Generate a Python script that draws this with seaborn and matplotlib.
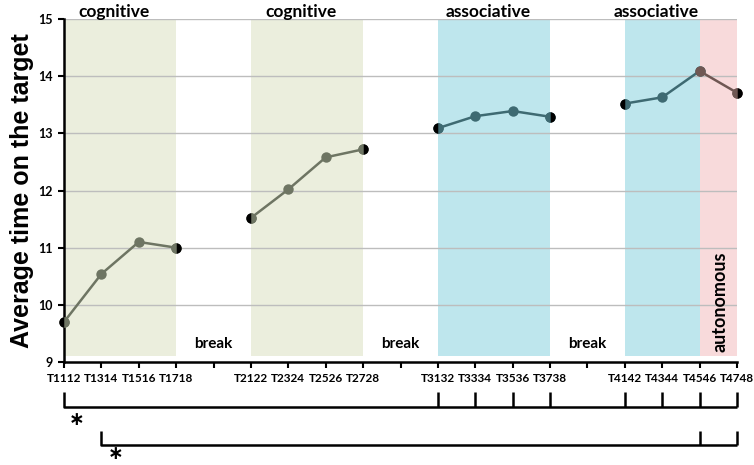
import matplotlib
matplotlib.use("Agg")
import matplotlib.pyplot as plt
import seaborn as sns
import pandas as pd

sns.set_theme(style="white")
plt.rcParams['font.family'] = ['Lato', 'DejaVu Sans']
plt.rcParams['text.color'] = 'black'
plt.rcParams['axes.labelcolor'] = 'black'
plt.rcParams['xtick.color'] = 'black'
plt.rcParams['ytick.color'] = 'black'

# ---- data ----
tick_labels = ["T1112", "T1314", "T1516", "T1718", "",
               "T2122", "T2324", "T2526", "T2728", "",
               "T3132", "T3334", "T3536", "T3738", "",
               "T4142", "T4344", "T4546", "T4748"]
seg1_x = [0, 1, 2, 3];      seg1_y = [9.70, 10.54, 11.10, 11.00]
seg2_x = [5, 6, 7, 8];      seg2_y = [11.52, 12.02, 12.58, 12.72]
seg3_x = [10, 11, 12, 13];  seg3_y = [13.09, 13.30, 13.39, 13.29]
seg4_x = [15, 16, 17];      seg4_y = [13.52, 13.63, 14.09]
seg5_x = [17, 18];          seg5_y = [14.09, 13.71]

phases = [("cognitive", 0, 3, "#EBEEDD"), ("cognitive", 5, 8, "#EBEEDD"),
          ("associative", 10, 13, "#BEE6ED"), ("associative", 15, 17, "#BEE6ED")]
auto_band = (17, 18, "#F8DADB")
break_pos = [4, 9, 14]

bracket1_x = (0, 18); bracket1_ticks = [10, 11, 12, 13, 15, 16, 17, 18]
bracket2_x = (1, 18); bracket2_ticks = [17, 18]

# ---- figure ----
fig = plt.figure(figsize=(7.54, 4.65), dpi=100)
ax = fig.add_axes([64/754, 1-362/465, (737-64)/754, (362-19)/465])
ax.set_xlim(0, 18)
ax.set_ylim(9, 15)

def ypix(py):
    return 9 - (py - 362) / 57.17

# bands
for name, a, b, c in phases:
    ax.fill_between([a, b], 9.1, 15, color=c, lw=0, zorder=0)
    ax.text((a + b) / 2 - 0.15, ypix(17), name, ha="center", va="baseline",
            fontsize=12.5, fontweight="bold", color="black")
ax.fill_between([auto_band[0], auto_band[1]], 9.1, 15, color=auto_band[2], lw=0, zorder=0)
ax.text(17.55, ypix(302), "autonomous", rotation=90, ha="center", va="center",
        fontsize=13, fontweight="bold")
for p in break_pos:
    ax.text(p, ypix(344), "break", ha="center", va="center", fontsize=11, fontweight="bold")

# grid
for yv in [10, 11, 12, 13, 14, 15]:
    ax.axhline(yv, color="#BDBDBD", lw=1.0, zorder=0.5)

# lines
grey = "#6E7563"; teal = "#3E6A72"; brown = "#6F5753"
segs = [(seg1_x, seg1_y, grey), (seg2_x, seg2_y, grey),
        (seg3_x, seg3_y, teal), (seg4_x, seg4_y, teal), (seg5_x, seg5_y, brown)]
for xs, ys, col in segs:
    df = pd.DataFrame({"x": xs, "y": ys})
    sns.lineplot(data=df, x="x", y="y", ax=ax, color=col, lw=1.8, marker="o",
                 markersize=7.5, markeredgewidth=0, markerfacecolor=col, zorder=3,
                 clip_on=False)

# half-black endpoints
ends = [(seg1_x[0], seg1_y[0], "left", grey), (seg1_x[-1], seg1_y[-1], "right", grey),
        (seg2_x[0], seg2_y[0], "left", grey), (seg2_x[-1], seg2_y[-1], "right", grey),
        (seg3_x[0], seg3_y[0], "left", teal), (seg3_x[-1], seg3_y[-1], "right", teal),
        (seg4_x[0], seg4_y[0], "left", teal), (seg5_x[-1], seg5_y[-1], "right", brown)]
for x, y, fs, col in ends:
    ax.plot([x], [y], marker="o", markersize=7.5, fillstyle=fs, markerfacecolor="black",
            markerfacecoloralt=col, markeredgewidth=0, ls="none", zorder=4, clip_on=False)

# axes style
for s in ["top", "right"]:
    ax.spines[s].set_visible(False)
for s in ["left", "bottom"]:
    ax.spines[s].set_color("black")
    ax.spines[s].set_linewidth(1.8)
ax.set_xticks(range(len(tick_labels)))
ax.set_xticklabels(tick_labels, fontsize=8.5, fontweight="bold")
ax.set_yticks([9, 10, 11, 12, 13, 14, 15])
ax.set_yticklabels(["9", "10", "11", "12", "13", "14", "15"], fontsize=9, fontweight="bold")
ax.tick_params(axis="both", direction="out", length=4, width=1.5, color="black",
               bottom=True, left=True, pad=4)
ax.set_xlabel("")
ax.set_ylabel("Average time on the target", fontsize=18, fontweight="bold",
              family=["Liberation Sans"], labelpad=3)

# significance brackets below axis
kw = dict(color="black", lw=1.8, clip_on=False, solid_capstyle="butt")
ax.plot([bracket1_x[0], bracket1_x[0], bracket1_x[1]], [ypix(392), ypix(407), ypix(407)], **kw)
for t in bracket1_ticks:
    ax.plot([t, t], [ypix(392), ypix(407)], **kw)
ax.text(bracket1_x[0] + 0.35, ypix(420), "\u2217", ha="center", va="center", fontsize=13.5,
        fontweight="bold", family=["DejaVu Sans"])
ax.plot([bracket2_x[0], bracket2_x[0], bracket2_x[1]], [ypix(431), ypix(445), ypix(445)], **kw)
for t in bracket2_ticks:
    ax.plot([t, t], [ypix(431), ypix(445)], **kw)
ax.text(bracket2_x[0] + 0.38, ypix(454), "\u2217", ha="center", va="center", fontsize=13.5,
        fontweight="bold", family=["DejaVu Sans"])

fig.savefig("out.png", dpi=100)
